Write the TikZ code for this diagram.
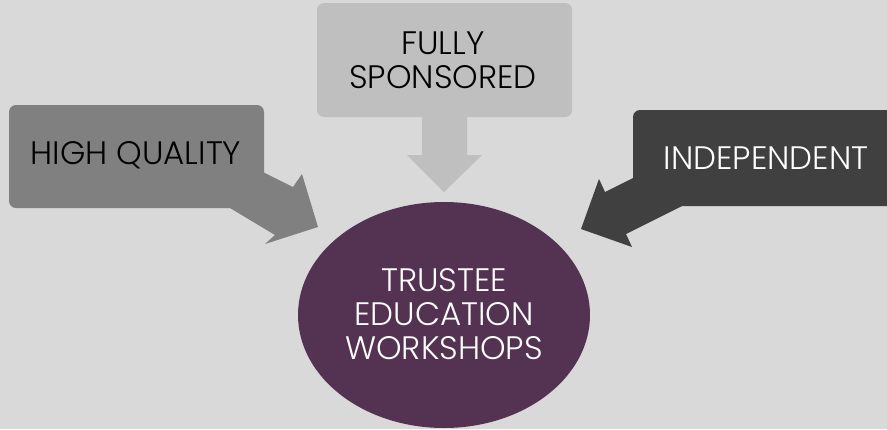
\documentclass[tikz,border=0pt]{standalone}
\usepackage{fontspec}
\setmainfont{Poppins}[UprightFont = * Light]
\usetikzlibrary{shapes.geometric}
\definecolor{bg}{HTML}{D9D9D9}
\definecolor{gmid}{HTML}{808080}
\definecolor{glight}{HTML}{BFBFBF}
\definecolor{gdark}{HTML}{404040}
\definecolor{plum}{HTML}{543352}
\tikzset{
  lbl/.style={align=center, inner sep=0pt, font=\fontsize{32.5}{34}\selectfont},
  box/.style={rounded corners=7pt},
}
\begin{document}
\begin{tikzpicture}[x=1pt,y=-1pt]
\useasboundingbox (0,0) rectangle (887,429);
\clip (0,0) rectangle (887,429);
\fill[bg] (0,0) rectangle (887,429);
% left callout
\fill[gmid, box] (9,105) rectangle (264,208);
\fill[gmid] (263,172) -- (293,187) -- (302,174) -- (318,227) -- (265,244) -- (275,235) -- (230,208) -- cycle;
% top callout
\fill[glight, box] (317,3) rectangle (572,117);
\fill[glight] (422,110) -- (422,155) -- (407,155) -- (444,192) -- (482,155) -- (467,155) -- (467,110) -- cycle;
% right callout
\fill[gdark, box] (633,110) rectangle (905,206);
\fill[gdark] (633,178) -- (605,192) -- (599,179) -- (581,229) -- (632,247) -- (626,234) -- (682,206) -- cycle;
% ellipse
\node[ellipse, fill=plum, minimum width=292pt, minimum height=226pt, inner sep=0pt] (center) at (444,315) {};
\node[lbl, text=white] (trustee) at (444,314) {TRUSTEE\\EDUCATION\\WORKSHOPS};
\node[lbl, text=black] (quality) at (136,155) {HIGH QUALITY};
\node[lbl, text=black] (sponsored) at (443,60) {FULLY\\SPONSORED};
\node[lbl, text=white] (indep) at (766,158) {INDEPENDENT};
\end{tikzpicture}
\end{document}
